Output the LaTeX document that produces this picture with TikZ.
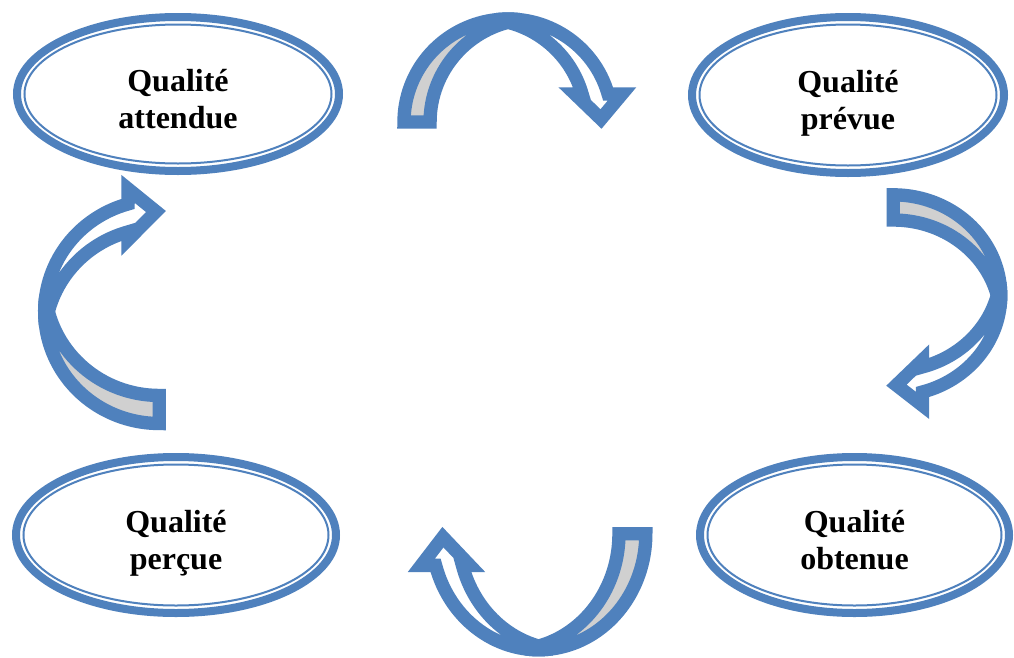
\documentclass[tikz,border=0pt]{standalone}
\usepackage{fontspec}
\setmainfont{Liberation Serif}
\usetikzlibrary{shapes.geometric}
\definecolor{wblue}{RGB}{79,129,189}
\definecolor{wgray}{RGB}{208,208,208}
\newcommand\topstrut{\rule{0pt}{31pt}}
\newcommand\botstrut{\rule[-7pt]{0pt}{7pt}}
\tikzset{
  bubble/.style={ellipse, draw=wblue, line width=6pt, fill=white, inner sep=0pt,
    align=center, font=\bfseries\fontsize{24}{27.6}\selectfont},
  innerring/.style={draw=wblue, line width=1.5pt},
  backband/.style={fill=wgray, draw=wblue, line width=10pt, miter limit=3},
  frontband/.style={fill=white, draw=wblue, line width=10pt, miter limit=3},
}
\newcommand\wordarrow{%
  \path[backband] (-104,0)
    arc[start angle=180,end angle=277.2,x radius=104,y radius=103]
    arc[start angle=262.8,end angle=180,x radius=104,y radius=103] -- cycle;
  \path[frontband] (-13.03,-102.19)
    arc[start angle=262.8,end angle=344.2,x radius=104,y radius=103]
    -- (114,-28.04) -- (93,-3) -- (67,-28.04) -- (74.07,-28.04)
    arc[start angle=344.2,end angle=277.2,x radius=104,y radius=103] -- cycle;
}
\begin{document}
\begin{tikzpicture}[x=0.75pt,y=0.75pt,yscale=-1]
\useasboundingbox[fill=white] (0,0) rectangle (1014,657);
% curved arrows
\begin{scope}[shift={(508,122)}]
  \wordarrow
\end{scope}
\begin{scope}[shift={(893.3,295.3)}, rotate=90, xscale=0.966, yscale=1.043]
  \wordarrow
\end{scope}
\begin{scope}[shift={(538.7,533.8)}, rotate=180, xscale=1.03, yscale=1.126]
  \wordarrow
\end{scope}
\begin{scope}[shift={(159.3,311.6)}, rotate=-90, xscale=1.076, yscale=1.113]
  \wordarrow
\end{scope}
% ellipses
\node[bubble, minimum width=241.5pt, minimum height=115.5pt] (e1) at (178,94) {\topstrut Qualité\\attendue\botstrut};
\draw[innerring] (e1.center) ellipse[x radius=153.5, y radius=69.5];
\node[bubble, minimum width=234pt, minimum height=117pt] (e2) at (848,95) {\topstrut Qualité\\prévue\botstrut};
\draw[innerring] (e2.center) ellipse[x radius=148.5, y radius=70.5];
\node[bubble, minimum width=240pt, minimum height=117pt] (e3) at (176,535) {\topstrut Qualité\\perçue\botstrut};
\draw[innerring] (e3.center) ellipse[x radius=152.5, y radius=70.5];
\node[bubble, minimum width=231.75pt, minimum height=117pt] (e4) at (854.5,535) {\topstrut Qualité\\obtenue\botstrut};
\draw[innerring] (e4.center) ellipse[x radius=147, y radius=70.5];
\end{tikzpicture}
\end{document}
